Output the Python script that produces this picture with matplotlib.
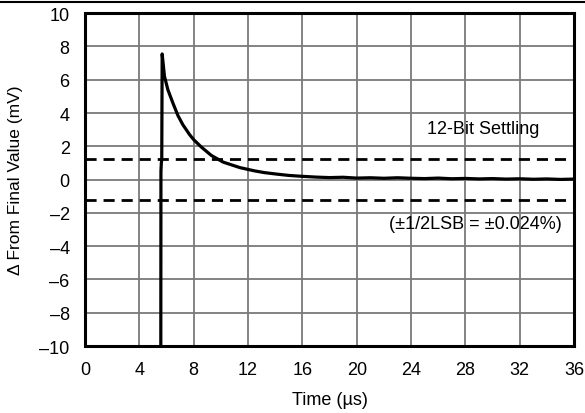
import matplotlib
matplotlib.use("Agg")
import matplotlib.pyplot as plt
from matplotlib.lines import Line2D

plt.rcParams['font.family'] = ['Liberation Sans', 'DejaVu Sans']

# settling waveform (time in us, deviation in mV)
time_us = [5.58, 5.59, 5.62, 5.65, 5.68, 5.85, 6.1, 6.47, 6.84, 7.2, 7.7, 8.0,
           8.57, 9.3, 10.17, 11.4, 12.5, 13.2, 14.1, 15.0, 15.9,
           17.0, 18.0, 19.0, 20.0, 21.0, 22.0, 23.0, 24.0, 25.0, 26.0, 27.0, 28.0,
           29.0, 30.0, 31.0, 32.0, 33.0, 34.0, 35.0, 36.0]
delta_mv = [-10.0, 0.5, 1.0, 1.2, 7.55, 6.2, 5.4, 4.6, 3.85, 3.3, 2.7, 2.4,
            1.95, 1.45, 1.05, 0.72, 0.52, 0.42, 0.33, 0.25, 0.2,
            0.15, 0.12, 0.14, 0.09, 0.11, 0.08, 0.11, 0.08, 0.06, 0.09, 0.05, 0.07,
            0.04, 0.06, 0.03, 0.05, 0.02, 0.04, 0.01, 0.03]

settle_band = [1.25, -1.25]
x_ticks = [0, 4, 8, 12, 16, 20, 24, 28, 32, 36]
y_ticks = [-10, -8, -6, -4, -2, 0, 2, 4, 6, 8, 10]
y_tick_labels = ['\u201310', '\u20138', '\u20136', '\u20134', '\u20132', '0', '2', '4', '6', '8', '10']

fig = plt.figure(figsize=(5.85, 4.14), dpi=100)
ax = fig.add_axes([0.1453, 0.1618, 0.836, 0.804])

ax.set_xlim(0, 36)
ax.set_ylim(-10, 10)
ax.set_xticks(x_ticks)
ax.set_yticks(y_ticks)
ax.set_yticklabels(y_tick_labels)
ax.tick_params(length=0, labelsize=13)
ax.tick_params(axis='x', pad=11)
ax.tick_params(axis='y', pad=11)
ax.grid(True, color='#7a7a7a', linewidth=1.3)
ax.set_axisbelow(True)
for s in ax.spines.values():
    s.set_linewidth(2.2)
    s.set_color('black')

for yv in settle_band:
    ax.axhline(yv, color='black', linewidth=2.0, linestyle=(0, (4, 2.5)))

ax.plot(time_us, delta_mv, color='black', linewidth=2.3, solid_joinstyle='round')

ax.text(29.3, 3.05, '12-Bit Settling', fontsize=13, ha='center', va='center')
ax.text(28.7, -2.63, '(\u00b11/2LSB = \u00b10.024%)', fontsize=13, ha='center', va='center')

ax.set_xlabel('Time (\u00b5s)', fontsize=13, labelpad=9)
ax.set_ylabel('\u0394 From Final Value (mV)', fontsize=12.5, labelpad=12)

fig.add_artist(Line2D([0, 1], [1 - 3 / 414, 1 - 3 / 414], color='black', linewidth=1.5,
                      transform=fig.transFigure))

fig.savefig('out.png', dpi=100)
